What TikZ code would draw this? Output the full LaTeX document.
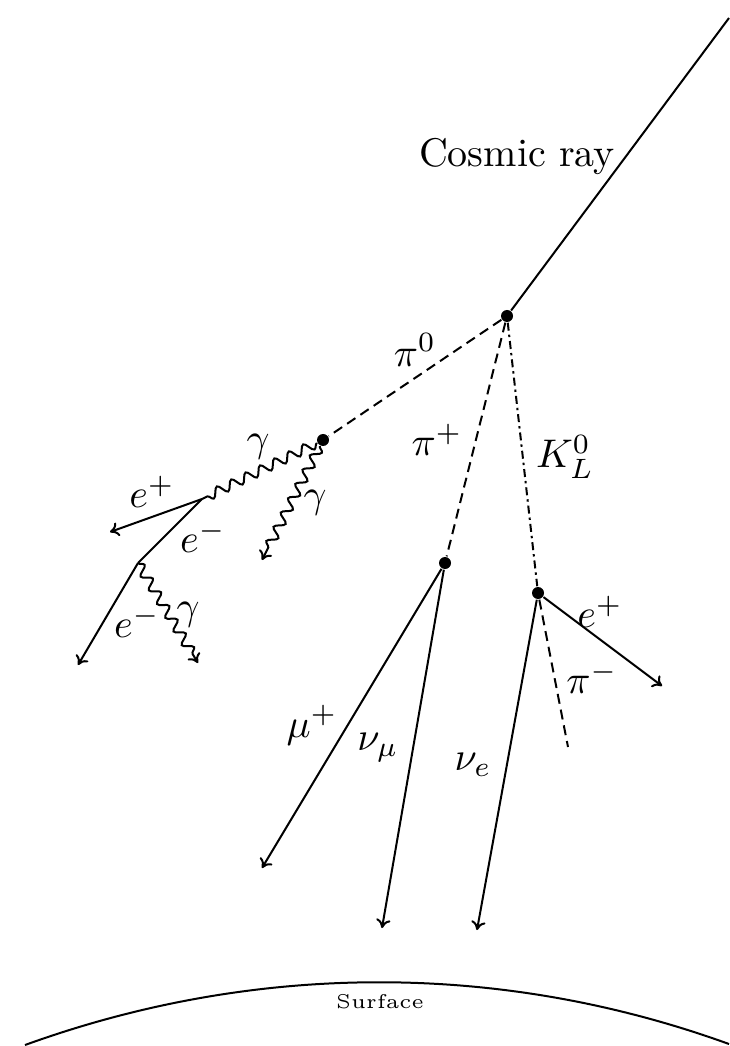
\documentclass[tikz,border=0pt]{standalone}
\usepackage{amsmath,amssymb}
\usetikzlibrary{arrows.meta,decorations.pathmorphing}
\tikzset{
  vtx/.style={circle, fill=black, inner sep=0pt, minimum size=3pt},
  trk/.style={line width=0.5pt},
  trkarr/.style={-{To[length=2.2pt,width=3.6pt]}, line width=0.5pt},
  pidash/.style={line width=0.5pt, dash pattern=on 2.5pt off 1.5pt},
  kdash/.style={line width=0.5pt, dash pattern=on 2pt off 1pt on 0.6pt off 1pt},
  phot/.style={line width=0.5pt, decorate,
    decoration={snake, amplitude=1.2pt, segment length=4pt}},
  photarr/.style={-{To[length=2.2pt,width=3.6pt]}, line width=0.5pt, decorate,
    decoration={snake, amplitude=1.2pt, segment length=4pt, post length=2.5pt}},
  lbl/.style={inner sep=0pt, font=\normalsize}
}
\begin{document}
\begin{tikzpicture}[x=0.25pt,y=-0.25pt]
        \useasboundingbox (0,0) rectangle (729,1046);
        \coordinate (crtop) at (729,18);
        \node[vtx] (pv) at (507,316) {};
        \node[vtx] (pizdec) at (323,440) {};
        \node[vtx] (pipdec) at (445,563) {};
        \node[vtx] (kdec) at (538,593) {};
        \coordinate (conv) at (202,499);
        \coordinate (brem) at (138,563);
        \coordinate (epend) at (110,532);
        \coordinate (gend) at (262,560);
        \coordinate (emend) at (78,665);
        \coordinate (bgend) at (198,663);
        \coordinate (muend) at (262,868);
        \coordinate (numend) at (382,928);
        \coordinate (nueend) at (477,930);
        \coordinate (kepend) at (662,686);
        \coordinate (pimend) at (568,747);
        \draw[trk] (crtop) -- (pv);
        \draw[pidash] (pv) -- (pizdec);
        \draw[pidash] (pv) -- (pipdec);
        \draw[kdash] (pv) -- (kdec);
        \draw[phot] (pizdec) -- (conv);
        \draw[photarr] (pizdec) -- (gend);
        \draw[trkarr] (conv) -- (epend);
        \draw[trk] (conv) -- (brem);
        \draw[trkarr] (brem) -- (emend);
        \draw[photarr] (brem) -- (bgend);
        \draw[trkarr] (pipdec) -- (muend);
        \draw[trkarr] (pipdec) -- (numend);
        \draw[trkarr] (kdec) -- (nueend);
        \draw[trkarr] (kdec) -- (kepend);
        \draw[pidash] (kdec) -- (pimend);
        \node[lbl] (lcr) at (517,157) {Cosmic ray};
        \node[lbl] (lpiz) at (415,350) {$\pi^0$};
        \node[lbl] (lpip) at (437,440) {$\pi^+$};
        \node[lbl] (lk) at (565,457) {$K_L^0$};
        \node[lbl] (lg1) at (258,447) {$\gamma$};
        \node[lbl] (lg2) at (315,503) {$\gamma$};
        \node[lbl] (lep1) at (152,492) {$e^+$};
        \node[lbl] (lem1) at (203,537) {$e^-$};
        \node[lbl] (lem2) at (137,622) {$e^-$};
        \node[lbl] (lg3) at (188,615) {$\gamma$};
        \node[lbl] (lmu) at (312,725) {$\mu^+$};
        \node[lbl] (lnum) at (378,748) {$\nu_\mu$};
        \node[lbl] (lnue) at (473,765) {$\nu_e$};
        \node[lbl] (lep2) at (600,612) {$e^+$};
        \node[lbl] (lpim) at (592,678) {$\pi^-$};
        \draw[trk] (25,1045) .. controls (254,962) and (500,961) .. (729,1044);
        \node[lbl, font=\tiny] (lsurf) at (380,1002) {Surface};
\end{tikzpicture}
\end{document}
